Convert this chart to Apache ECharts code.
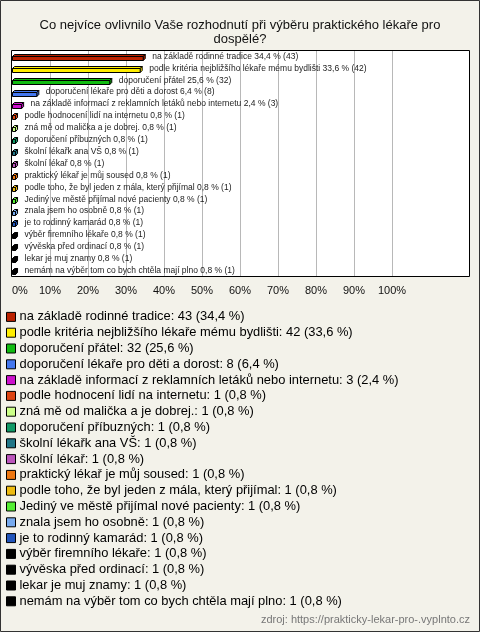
<!DOCTYPE html>
<html><head><meta charset="utf-8">
<script src="https://cdn.jsdelivr.net/npm/echarts@6/dist/echarts.min.js"></script>
<style>html,body{margin:0;padding:0;background:#f3f2ea}#c{width:480px;height:632px}</style>
</head><body><div id="c"></div>
<script>
const categories = [
  'na základě rodinné tradice',
  'podle kritéria nejbližšího lékaře mému bydlišti',
  'doporučení přátel',
  'doporučení lékaře pro děti a dorost',
  'na základě informací z reklamních letáků nebo internetu',
  'podle hodnocení lidí na internetu',
  'zná mě od malička a je dobrej.',
  'doporučení příbuzných',
  'školní lékařk ana VŠ',
  'školní lékař',
  'praktický lékař je můj soused',
  'podle toho, že byl jeden z mála, který přijímal',
  'Jediný ve městě přijímal nové pacienty',
  'znala jsem ho osobně',
  'je to rodinný kamarád',
  'výběr firemního lékaře',
  'vývěska před ordinací',
  'lekar je muj znamy',
  'nemám na výběr tom co bych chtěla mají plno'
];
const counts = [43, 42, 32, 8, 3, 1, 1, 1, 1, 1, 1, 1, 1, 1, 1, 1, 1, 1, 1];
const percents = [34.4, 33.6, 25.6, 6.4, 2.4, 0.8, 0.8, 0.8, 0.8, 0.8, 0.8, 0.8, 0.8, 0.8, 0.8, 0.8, 0.8, 0.8, 0.8];
const colors = ['#bb2200', '#ffee00', '#11bb11', '#4477ee', '#cc11cc', '#dd4411', '#ccff88', '#119966',
  '#227788', '#bb55bb', '#ee7711', '#eebb11', '#55ee33', '#77aaee', '#2255bb', '#000000', '#000000', '#000000', '#000000'];
const xTicks = [0, 10, 20, 30, 40, 50, 60, 70, 80, 90, 100];

const fmt = v => String(v).replace('.', ',');

function renderBox(i) {
  return function (params, api) {
    const p0 = api.coord([0, api.value(1)]);
    const p1 = api.coord([api.value(0), api.value(1)]);
    const h = 4, d = 2;
    const x0 = p0[0] + 0.5, x1 = Math.max(p1[0], x0 + 2) + 0.5;
    const yTop = Math.round(p0[1] - h / 2 + 1) + 0.5, yBot = yTop + h;
    const col = colors[i];
    const st = {fill: col, stroke: '#000', lineWidth: 1};
    return {
      type: 'group',
      children: [
        {type: 'polygon', shape: {points: [[x0, yTop], [x0 + d, yTop - d], [x1 + d, yTop - d], [x1, yTop]]}, style: st},
        {type: 'polygon', shape: {points: [[x1, yTop], [x1 + d, yTop - d], [x1 + d, yBot - d], [x1, yBot]]}, style: st},
        {type: 'rect', shape: {x: x0, y: yTop, width: x1 - x0, height: h}, style: st},
        {type: 'text', x: x1 + d + 7, y: p0[1] - 0.5,
          style: {text: categories[i] + ' ' + fmt(percents[i]) + ' % (' + counts[i] + ')',
            fill: '#222', font: '8.5px "Liberation Sans"', textVerticalAlign: 'middle', textAlign: 'left'}}
      ]
    };
  };
}

const series = categories.map((name, i) => ({
  name: name,
  type: 'custom',
  xAxisIndex: 1, yAxisIndex: 1,
  z: 5,
  itemStyle: {color: colors[i]},
  encode: {x: 0, y: 1},
  data: [[percents[i], i]],
  renderItem: renderBox(i)
}));

// plot frame (white area + border) and vertical grid lines at the tick values, via the x scale
series.unshift({
  name: 'frame',
  type: 'custom',
  xAxisIndex: 1, yAxisIndex: 1,
  z: 2,
  silent: true,
  clip: false,
  encode: {x: 0, y: 1},
  data: [[0, 0]],
  renderItem: function (params, api) {
    const cs = params.coordSys;
    const children = [
      {type: 'rect', shape: {x: cs.x - 0.5, y: cs.y - 0.5, width: cs.width * 1.2 + 2, height: cs.height},
        style: {fill: '#fff', stroke: 'none'}}
    ];
    xTicks.slice(1).forEach(v => {
      const x = Math.round(api.coord([v, 0])[0]);
      children.push({type: 'rect', shape: {x: x, y: cs.y, width: 1, height: cs.height},
        style: {fill: '#b8b8b8', stroke: 'none'}});
    });
    children.push({type: 'rect', shape: {x: cs.x - 0.5, y: cs.y - 0.5, width: cs.width * 1.2 + 2, height: cs.height},
      style: {fill: 'none', stroke: '#000', lineWidth: 1}});
    return {type: 'group', children: children};
  }
});

const chart = echarts.init(document.getElementById('c'), null, {renderer: 'canvas'});
chart.setOption({
  backgroundColor: '#f3f2ea',
  animation: false,
  title: {
    text: 'Co nejvíce ovlivnilo Vaše rozhodnutí při výběru praktického lékaře pro\ndospělé?',
    left: 'center',
    top: 13,
    textStyle: {fontFamily: 'Liberation Sans', fontSize: 13, fontWeight: 'normal', color: '#111', lineHeight: 14}
  },
  graphic: [
    {type: 'rect', shape: {x: 0.5, y: 0.5, width: 479, height: 631}, style: {fill: 'none', stroke: '#333', lineWidth: 1}},
    {type: 'text', right: 10, top: 614, style: {text: 'zdroj: https://prakticky-lekar-pro-.vyplnto.cz', fill: '#777', font: '11px "Liberation Sans"'}}
  ],
  grid: [
    {left: 11, top: 50, width: 459, height: 227},
    {left: 12, top: 51, width: 380, height: 226, containLabel: false, z: 1}
  ],
  xAxis: [
    {gridIndex: 0, type: 'value', min: 0, max: 1, show: false},
    {
      gridIndex: 1, type: 'value', min: 0, max: 100, interval: 10, z: 3,
      axisLine: {show: false}, axisTick: {show: false},
      splitLine: {show: false},
      axisLabel: {
        margin: 8, fontFamily: 'Liberation Sans', fontSize: 11, color: '#111',
        alignMinLabel: 'left',
        formatter: v => xTicks.includes(v) ? v + '%' : ''
      }
    }
  ],
  yAxis: [
    {gridIndex: 0, type: 'value', min: 0, max: 1, show: false},
    {
      gridIndex: 1, type: 'category', data: categories, inverse: true,
      axisLine: {show: false}, axisTick: {show: false}, axisLabel: {show: false}, splitLine: {show: false}
    }
  ],
  legend: {
    orient: 'vertical', left: 6, top: 310, padding: 0,
    itemWidth: 9, itemHeight: 9, itemGap: 2,
    icon: 'rect',
    data: categories,
    itemStyle: {borderColor: '#000', borderWidth: 1},
    selectedMode: false,
    textStyle: {fontFamily: 'Liberation Sans', fontSize: 12.9, color: '#000', lineHeight: 13.8, padding: [0, 0, 0, -1]},
    formatter: name => {
      const i = categories.indexOf(name);
      return name + ': ' + counts[i] + ' (' + fmt(percents[i]) + ' %)';
    }
  },
  series: series
});
</script></body></html>
